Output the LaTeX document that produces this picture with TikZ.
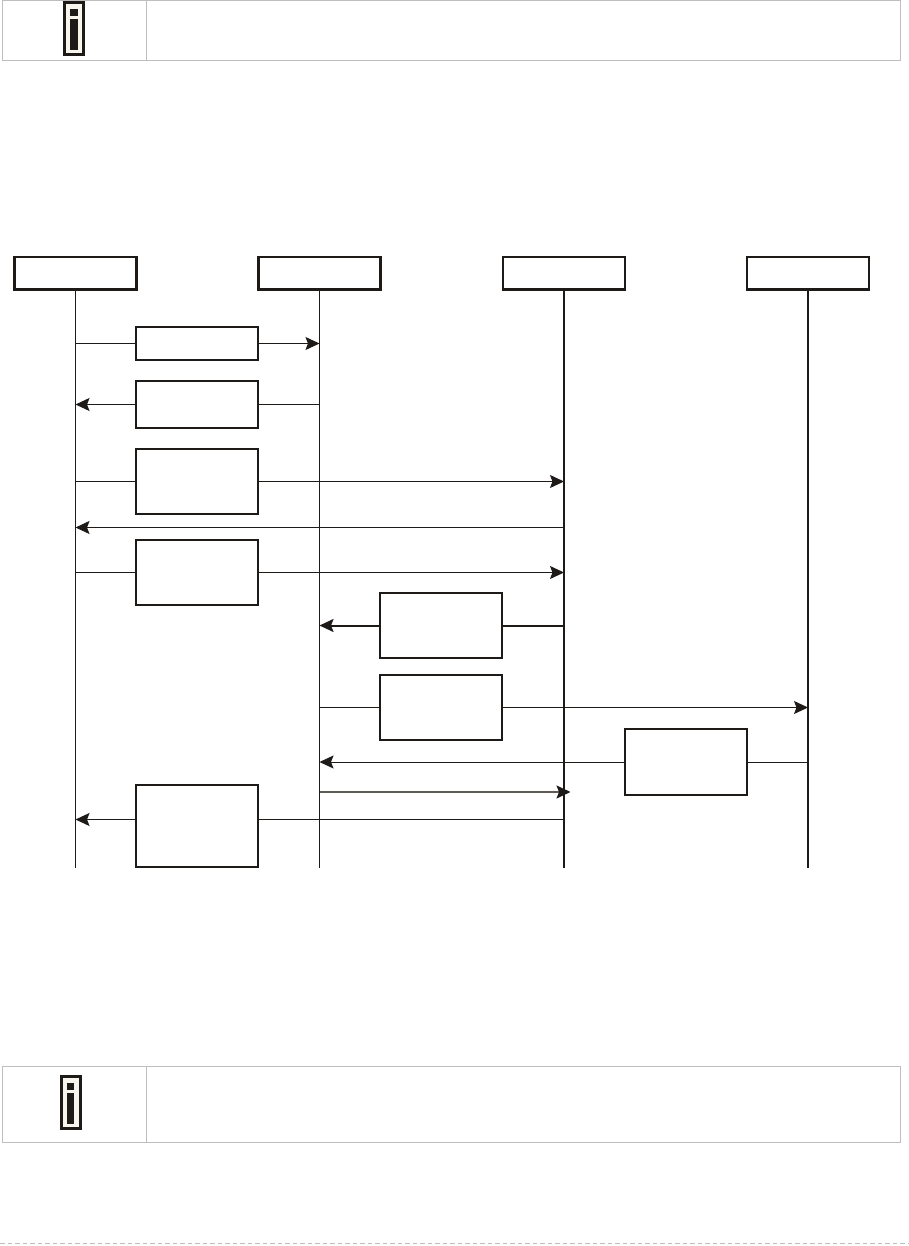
\documentclass[tikz,border=0pt]{standalone}
\usepackage{xcolor}
\usetikzlibrary{arrows.meta, calc}

\definecolor{notegray}{RGB}{190,190,190}
\definecolor{iconink}{RGB}{30,26,24}
\definecolor{iconpaper}{RGB}{248,246,236}
\definecolor{softink}{RGB}{95,92,88}

\tikzset{
	headbox/.style={draw=iconink, line width=2.6pt, fill=white, minimum width=122pt, minimum height=32.5pt, inner sep=0pt, outer sep=0pt},
	msgbox/.style={draw=iconink, line width=2pt, fill=white, minimum width=122pt, inner sep=0pt, outer sep=0pt},
	notebox/.style={draw=notegray, line width=1pt, inner sep=0pt, outer sep=0pt},
	thinline/.style={draw=iconink, line width=1pt},
	thickline/.style={draw=iconink, line width=2pt},
	softline/.style={draw=softink, line width=1.6pt},
	msgarrow/.style={-{Stealth[length=14pt,width=13pt,inset=2.5pt,color=iconink]}},
	infoicon/.pic={
		\path[draw=iconink, fill=iconpaper, line width=3pt] (-9.5,-26) rectangle (9.5,26);
		\fill[iconink] (-3.7,-19.5) rectangle (3.7,-12.5);
		\fill[iconink] (-3.7,-9.5) rectangle (3.7,21.5);
	}
}

\begin{document}
\begin{tikzpicture}[x=1pt, y=-1pt]

	% Fix the page size
	\useasboundingbox (0,0) rectangle (908,1246);

	% Top note
	\node[notebox, minimum width=898pt, minimum height=60pt] (topnote) at (451.5,30.5) {};
	\coordinate (topdivtop) at (146.5,0.5);
	\coordinate (topdivbot) at (146.5,60.5);
	\draw[notegray, line width=1pt] (topdivtop) -- (topdivbot);
	\pic at (74,28.5) {infoicon};

	% Bottom note
	\node[notebox, minimum width=898pt, minimum height=76pt] (botnote) at (451.5,1104.5) {};
	\coordinate (botdivtop) at (146.5,1066.5);
	\coordinate (botdivbot) at (146.5,1142.5);
	\draw[notegray, line width=1pt] (botdivtop) -- (botdivbot);
	\pic at (70.5,1102.5) {infoicon};

	% Dashed foot line
	\coordinate (footleft) at (0,1243.5);
	\coordinate (footright) at (908,1243.5);
	\draw[notegray, line width=1pt, dash pattern=on 4.5pt off 3pt] (footleft) -- (footright);

	% Column heads
	\node[headbox] (head1) at (75.5,273.3) {};
	\node[headbox] (head2) at (319.5,273.3) {};
	\node[headbox] (head3) at (564,273.3) {};
	\node[headbox] (head4) at (808,273.3) {};

	% Life lines
	\coordinate (bottom) at (0,868);
	\draw[thinline] (head1.south) -- (head1 |- bottom);
	\draw[thinline] (head2.south) -- (head2 |- bottom);
	\draw[thickline] (head3.south) -- (head3 |- bottom);
	\draw[thickline] (head4.south) -- (head4 |- bottom);

	% Message boxes
	\node[msgbox, minimum height=33pt] (msg1) at (197,343.5) {};
	\node[msgbox, minimum height=47pt] (msg2) at (197,404.5) {};
	\node[msgbox, minimum height=65pt] (msg3) at (197,481.5) {};
	\node[msgbox, minimum height=65pt] (msg4) at (197,572.5) {};
	\node[msgbox, minimum height=65pt] (msg5) at (441,625.5) {};
	\node[msgbox, minimum height=65pt] (msg6) at (441,707.5) {};
	\node[msgbox, minimum height=66pt] (msg7) at (685.5,762) {};
	\node[msgbox, minimum height=82pt] (msg8) at (197,826) {};

	% Messages through the boxes
	\draw[thinline] (head1 |- msg1) -- (msg1);
	\draw[thinline, msgarrow] (msg1) -- (head2 |- msg1);
	\draw[thinline] (head2 |- msg2) -- (msg2);
	\draw[thinline, msgarrow] (msg2) -- (head1 |- msg2);
	\draw[thinline] (head1 |- msg3) -- (msg3);
	\draw[thinline, msgarrow] (msg3) -- (head3 |- msg3);
	\draw[thinline] (head1 |- msg4) -- (msg4);
	\draw[thinline, msgarrow] (msg4) -- (head3 |- msg4);
	\draw[thickline] (head3 |- msg5) -- (msg5);
	\draw[thickline, msgarrow] (msg5) -- (head2 |- msg5);
	\draw[thinline] (head2 |- msg6) -- (msg6);
	\draw[thinline, msgarrow] (msg6) -- (head4 |- msg6);
	\draw[thinline] (head4 |- msg7) -- (msg7);
	\draw[thinline, msgarrow] (msg7) -- (head2 |- msg7);

	% The last box hangs below its message
	\coordinate (line8) at (0,819.5);
	\draw[thinline] (head3 |- line8) -- (msg8.east |- line8);
	\draw[thinline, msgarrow] (msg8.west |- line8) -- (head1 |- line8);

	% Messages without a box
	\coordinate (line9) at (0,527.5);
	\draw[thinline, msgarrow] (head3 |- line9) -- (head1 |- line9);
	\coordinate (line10) at (0,792);
	\coordinate (tip10) at (570.5,792);
	\draw[softline, msgarrow] (head2 |- line10) -- (tip10);

\end{tikzpicture}
\end{document}
